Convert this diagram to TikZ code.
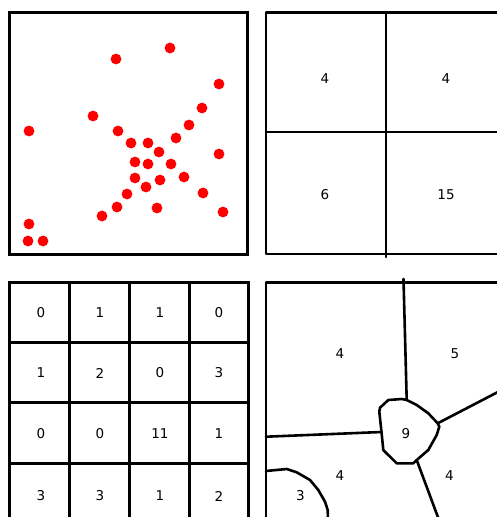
\documentclass[tikz,border=0pt]{standalone}
\usepackage{fontspec}
\setmainfont{DejaVu Sans}
\begin{document}
\begin{tikzpicture}[x=1pt,y=-1pt,
  frame/.style={draw=black,line width=3pt},
  thin/.style={draw=black,line width=2.6pt,line join=round,line cap=round},
  pt/.style={fill=red,draw=none},
  num/.style={font=\fontsize{13.5}{16}\selectfont,inner sep=0pt}]
\useasboundingbox (0,0) rectangle (497,517);
\clip (0,0) rectangle (497,517);
% panel 1: points
\draw[frame] (9.5,12.5) rectangle (247,254);
\foreach \x/\y [count=\i] in {170/48,116/59,219/84,202/108,93/116,189/125,29/131,118/131,176/138,131/143,148/143,159/152,219/154,135/162,148/164,171/164,184/177,135/178,160/180,146/187,127/194,203/193,117/207,157/208,223/212,102/216,29/224,28/241,43/241}
  \fill[pt] (\x,\y) circle (5.4);
% panel 2: 2x2 grid
\draw[thin] (266,12.5) rectangle (520,254);
\draw[thin] (386,12.5) -- (386,257);
\draw[thin] (266,132) -- (520,132);
\node[num] (a1) at (325,79) {4};
\node[num] (a2) at (446,79) {4};
\node[num] (a3) at (325,195) {6};
\node[num] (a4) at (446,195) {15};
% panel 3: 4x4 grid
\draw[frame] (9.5,282.5) rectangle (248,540);
\foreach \x in {69,129,189} \draw[frame] (\x,282.5) -- (\x,540);
\foreach \y in {342,402,463} \draw[frame] (9.5,\y) -- (248,\y);
\foreach \r/\y in {1/313,2/373,3/434,4/496}{
  \foreach \c/\x in {1/41,2/100,3/160,4/219}{
    \coordinate (g\r\c) at (\x,\y);
  }
}
\node[num] (b11) at (g11) {0};
\node[num] (b12) at (g12) {1};
\node[num] (b13) at (g13) {1};
\node[num] (b14) at (g14) {0};
\node[num] (b21) at (g21) {1};
\node[num] (b22) at (g22) {2};
\node[num] (b23) at (g23) {0};
\node[num] (b24) at (g24) {3};
\node[num] (b31) at (g31) {0};
\node[num] (b32) at (g32) {0};
\node[num] (b33) at (g33) {11};
\node[num] (b34) at (g34) {1};
\node[num] (b41) at (g41) {3};
\node[num] (b42) at (g42) {3};
\node[num] (b43) at (g43) {1};
\node[num] (b44) at (g44) {2};
% panel 4: regions
\draw[thin] (266,282.5) rectangle (520,540);
\coordinate (jt) at (406.7,400);
\coordinate (jl) at (381.5,432);
\coordinate (jr) at (437.7,423.3);
\coordinate (jb) at (416.7,460);
\draw[thin] (jt) -- (403.5,279);
\draw[thin] (jl) -- (266,436.7);
\draw[thin] (jr) -- (520,380.5);
\draw[thin] (jb) -- (439,520);
\draw[thin] (jt) -- (401.7,399) -- (388.3,400) -- (380,407.7) -- (379.3,411.7) -- (jl)
  -- (383.3,450) -- (396.7,463.3) -- (413.3,463.3) -- (jb) -- (428.3,450) -- (436.7,435)
  -- (439.3,426.7) -- (jr) -- (428.3,413.3) -- (416.7,405) -- cycle;
\draw[thin] (266,471) -- (286.7,469) -- (296.7,472.3) -- (310,480) -- (318.3,490)
  -- (325,501.7) -- (327.7,510) -- (328,520);
\node[num] (c1) at (340,354) {4};
\node[num] (c2) at (455,354) {5};
\node[num] (c3) at (406,434) {9};
\node[num] (c4) at (340,476) {4};
\node[num] (c5) at (449.5,476) {4};
\node[num] (c6) at (300.5,496) {3};
\end{tikzpicture}
\end{document}
